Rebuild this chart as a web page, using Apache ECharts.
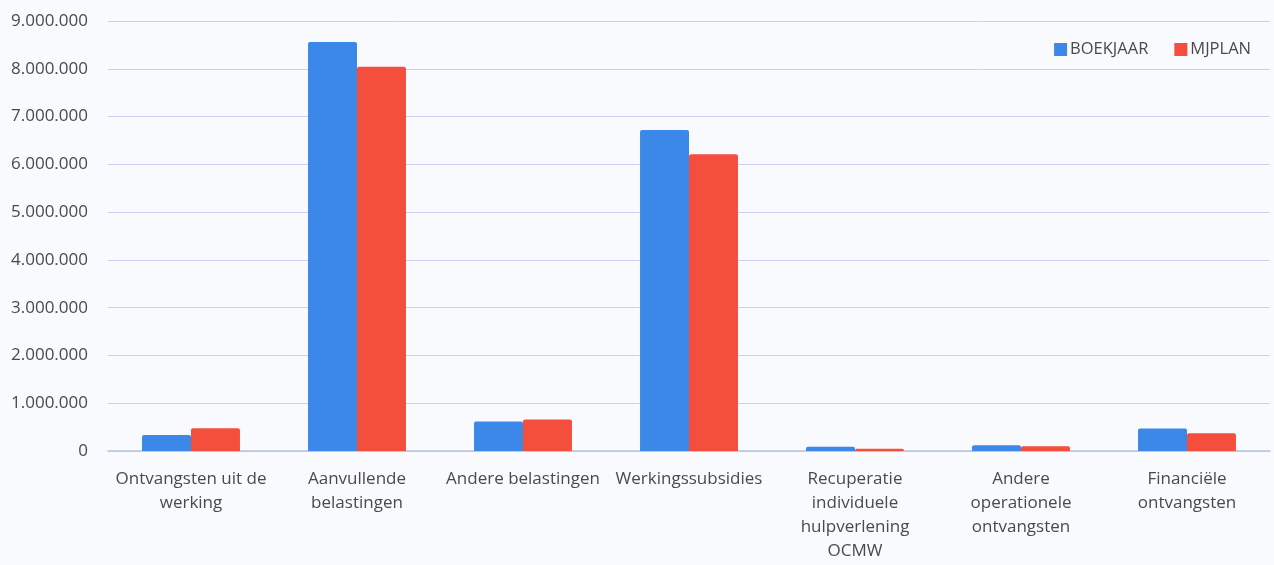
<!DOCTYPE html>
<html>
<head>
<meta charset="utf-8">
<script src="https://cdn.jsdelivr.net/npm/echarts@6/dist/echarts.min.js"></script>
<style>
  html, body { margin: 0; padding: 0; background: #f8fafd; }
  #chart { width: 1274px; height: 565px; }
</style>
</head>
<body>
<div id="chart"></div>
<script>
// categorieën en waarden
const categories = [
  'Ontvangsten uit de\nwerking',
  'Aanvullende\nbelastingen',
  'Andere belastingen',
  'Werkingssubsidies',
  'Recuperatie\nindividuele\nhulpverlening\nOCMW',
  'Andere\noperationele\nontvangsten',
  'Financiële\nontvangsten'
];
const boekjaar = [335000, 8560000, 620000, 6720000, 90000, 120000, 470000];
const mjplan = [475000, 8040000, 660000, 6210000, 45000, 100000, 370000];

const chart = echarts.init(document.getElementById('chart'));

function fmt(v) {
  return String(v).replace(/\B(?=(\d{3})+(?!\d))/g, '.');
}

let option = {
  backgroundColor: '#f8fafd',
  animation: false,
  textStyle: { fontFamily: 'Open Sans' },
  legend: {
    data: ['BOEKJAAR', 'MJPLAN'],
    top: 36,
    right: 18,
    itemWidth: 13,
    itemHeight: 13,
    itemGap: 26,
    icon: 'rect',
    textStyle: { color: '#4a4a4a', fontSize: 16.5, padding: [0, 0, 0, -2] }
  },
  grid: { left: 108, right: 4, top: 21, bottom: 114 },
  xAxis: {
    type: 'category',
    data: categories,
    axisLine: { show: true, lineStyle: { color: '#b9c2e6', width: 1.5 } },
    axisTick: { show: false },
    axisLabel: {
      interval: 0,
      color: '#4a4a4a',
      fontSize: 17,
      lineHeight: 24,
      margin: 16
    }
  },
  yAxis: {
    type: 'value',
    min: 0,
    max: 9000000,
    interval: 1000000,
    axisLine: { show: false },
    axisTick: { show: false },
    axisLabel: {
      color: '#4a4a4a',
      fontSize: 17,
      margin: 20,
      formatter: fmt
    },
    splitLine: { lineStyle: { color: '#c9d0ee', width: 1 } }
  },
  series: [
    {
      name: 'BOEKJAAR',
      type: 'bar',
      data: boekjaar,
      barGap: '0%',
      barCategoryGap: '41%',
      itemStyle: { color: '#3b88e8', borderRadius: [2, 2, 0, 0] }
    },
    {
      name: 'MJPLAN',
      type: 'bar',
      data: mjplan,
      itemStyle: { color: '#f44f3d', borderRadius: [2, 2, 0, 0] }
    }
  ]
};

chart.setOption(option);
</script>
</body>
</html>
